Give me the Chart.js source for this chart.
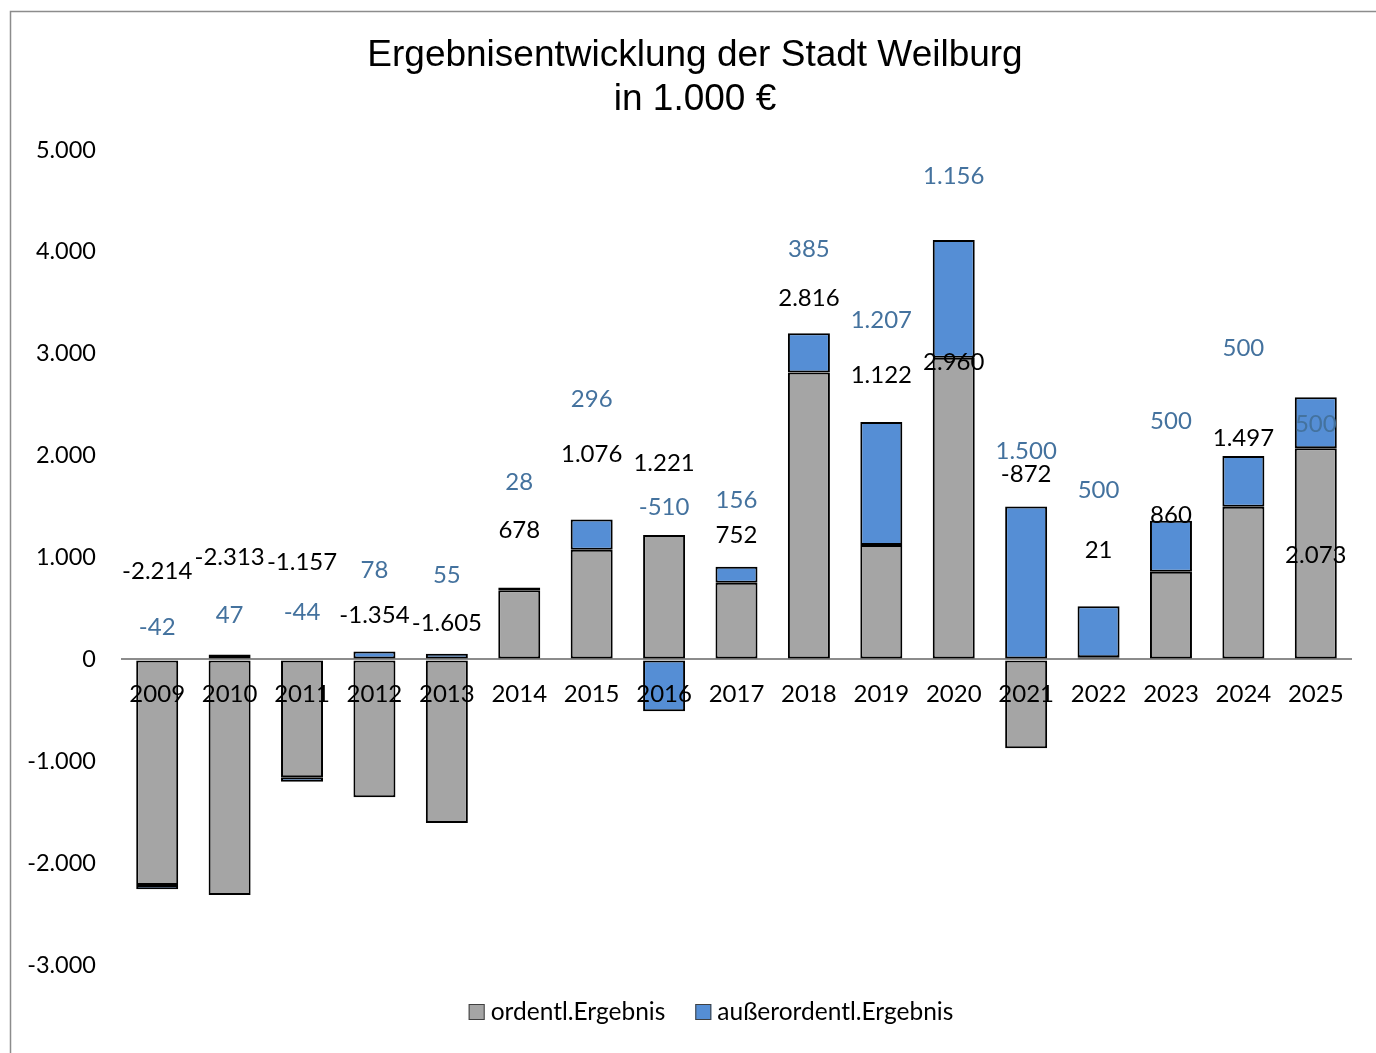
<!DOCTYPE html>
<html>
<head>
<meta charset="utf-8">
<script src="https://cdn.jsdelivr.net/npm/chart.js@4.4.1/dist/chart.umd.min.js"></script>
<style>
  html, body { margin: 0; padding: 0; background: #fff; }
</style>
</head>
<body>
<canvas id="ergebnis-chart" width="1376" height="1053"></canvas>
<script>
const jahre = ['2009', '2010', '2011', '2012', '2013', '2014', '2015', '2016', '2017',
               '2018', '2019', '2020', '2021', '2022', '2023', '2024', '2025'];
const ordentlich = [-2214, -2313, -1157, -1354, -1605, 678, 1076, 1221, 752,
                    2816, 1122, 2960, -872, 21, 860, 1497, 2073];
const ausserordentlich = [-42, 47, -44, 78, 55, 28, 296, -510, 156,
                          385, 1207, 1156, 1500, 500, 500, 500, 500];
const yMin = -3000;
const yMax = 5000;
const yStep = 1000;
const titel = ['Ergebnisentwicklung der Stadt Weilburg', 'in 1.000 €'];

// Excel hat die Datenbeschriftungen von Hand verschoben: Lage in Achsen-Einheiten
const ordLabelAt = [865, 1002, 953, 432, 354, 1268, 2015, 1926, 1219,
                    3548, 2791, 2919, 1818, 1071, 1415, 2172, 1022];
const aoLabelAt = [315, 432, 462, 875, 826, 1740, 2555, 1494, 1563,
                   4029, 3332, 4747, 2044, 1661, 2339, 3057, 2310];

const schrift = 'Lato';
const titelMitteX = 695;
const titelY = 56;
const titelZeile = 44;
const legendMitteX = 711;
const legendY = 1012;

function fmt(v) {
    const s = Math.abs(v).toString().replace(/\B(?=(\d{3})+(?!\d))/g, '.');
    return (v < 0 ? '-' : '') + s;
}

const rahmen = {
    id: 'rahmen',
    beforeDraw(chart) {
        const ctx = chart.ctx;
        ctx.save();
        ctx.fillStyle = '#fff';
        ctx.fillRect(0, 0, chart.width, chart.height);
        ctx.strokeStyle = '#8c8c8c';
        ctx.lineWidth = 1.5;
        ctx.beginPath();
        ctx.moveTo(10.5, chart.height);
        ctx.lineTo(10.5, 11.5);
        ctx.lineTo(chart.width, 11.5);
        ctx.stroke();
        // Titel
        ctx.fillStyle = '#000';
        ctx.font = '37px "Liberation Sans"';
        ctx.textAlign = 'center';
        ctx.textBaseline = 'middle';
        titel.forEach((zeile, i) => ctx.fillText(zeile, titelMitteX, titelY + i * titelZeile));
        ctx.restore();
    }
};

const wertLabels = {
    id: 'wertLabels',
    afterDatasetsDraw(chart) {
        const ctx = chart.ctx;
        const y = chart.scales.y;
        const reihen = [[ordentlich, ordLabelAt, '#000000'], [ausserordentlich, aoLabelAt, '#44729e']];
        ctx.save();
        ctx.font = '24px ' + schrift;
        ctx.textAlign = 'center';
        ctx.textBaseline = 'middle';
        reihen.forEach(([werte, lage, farbe], i) => {
            const meta = chart.getDatasetMeta(i);
            ctx.fillStyle = farbe;
            werte.forEach((v, j) => {
                ctx.fillText(fmt(v), meta.data[j].x, y.getPixelForValue(lage[j]));
            });
        });
        ctx.restore();
    }
};

const legende = {
    id: 'legende',
    afterDraw(chart) {
        const ctx = chart.ctx;
        const box = 16, gapText = 6, gapItem = 30;
        ctx.save();
        ctx.font = '24.5px ' + schrift;
        ctx.textBaseline = 'middle';
        const items = chart.data.datasets.map(d => ({
            text: d.label, color: d.backgroundColor, w: ctx.measureText(d.label).width
        }));
        const total = items.reduce((s, it, i) => s + box + gapText + it.w + (i ? gapItem : 0), 0);
        let x = legendMitteX - total / 2;
        items.forEach(it => {
            ctx.fillStyle = it.color;
            ctx.fillRect(x, legendY - box / 2, box, box);
            ctx.strokeStyle = '#404040';
            ctx.lineWidth = 1;
            ctx.strokeRect(x + 0.5, legendY - box / 2 + 0.5, box - 1, box - 1);
            x += box + gapText;
            ctx.fillStyle = '#000';
            ctx.fillText(it.text, x, legendY);
            x += it.w + gapItem;
        });
        ctx.restore();
    }
};

const ctx = document.getElementById('ergebnis-chart').getContext('2d');
new Chart(ctx, {
    type: 'bar',
    data: {
        labels: jahre,
        datasets: [{
            label: 'ordentl.Ergebnis',
            data: ordentlich,
            backgroundColor: '#a5a5a5'
        }, {
            label: 'außerordentl.Ergebnis',
            data: ausserordentlich,
            backgroundColor: '#558ed5'
        }]
    },
    options: {
        responsive: false,
        animation: false,
        layout: { padding: { left: 0, right: 24, top: 150, bottom: 88 } },
        datasets: {
            bar: {
                barPercentage: 0.58,
                categoryPercentage: 1.0,
                borderColor: '#000',
                borderWidth: 2,
                borderSkipped: false
            }
        },
        plugins: {
            legend: { display: false },
            tooltip: { enabled: false },
            title: { display: false }
        },
        scales: {
            x: {
                axis: 'x',
                stacked: true,
                offset: true,
                position: { y: 0 },
                grid: { display: false },
                border: { display: false },
                ticks: {
                    z: 1,
                    color: '#000',
                    font: { family: schrift, size: 24 },
                    padding: 12,
                    maxRotation: 0,
                    autoSkip: false
                },
                afterFit(scale) { scale.height = 0; }
            },
            y: {
                stacked: true,
                min: yMin,
                max: yMax,
                grid: {
                    drawTicks: false,
                    lineWidth: 2,
                    color: c => (c.tick && c.tick.value === 0) ? '#8c8c8c' : 'rgba(0,0,0,0)'
                },
                border: { display: false },
                ticks: {
                    stepSize: yStep,
                    color: '#000',
                    font: { family: schrift, size: 23.5 },
                    padding: 25,
                    callback: v => fmt(v)
                },
                afterFit(scale) { scale.width = 121; }
            }
        }
    },
    plugins: [rahmen, wertLabels, legende]
});
</script>
</body>
</html>
